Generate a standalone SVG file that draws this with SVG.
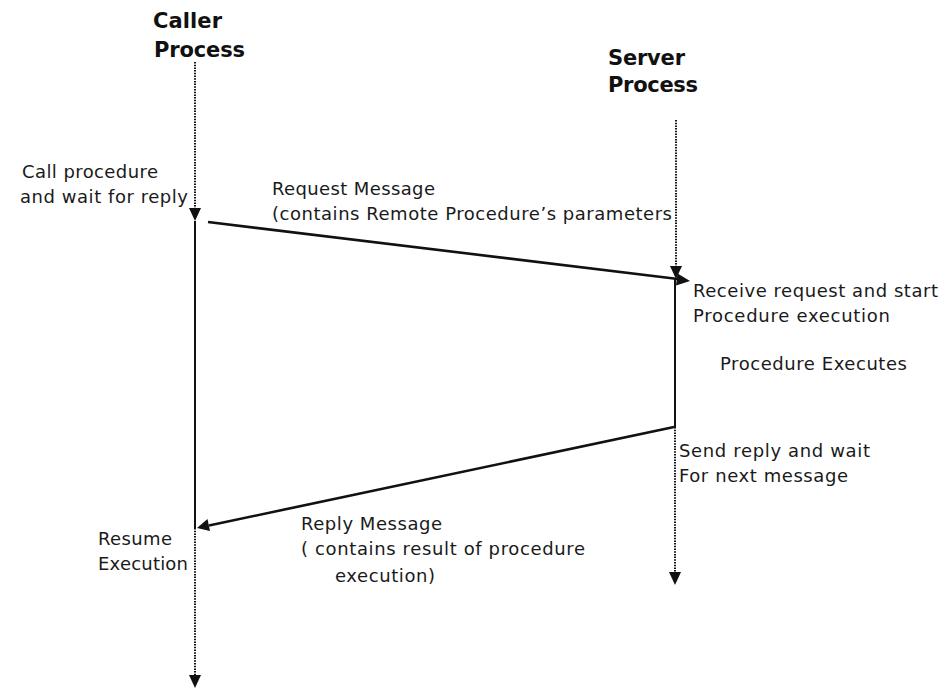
<svg xmlns="http://www.w3.org/2000/svg" width="949" height="691" viewBox="0 0 949 691">
<style>
.t{font-family:"DejaVu Sans","Verdana",sans-serif;font-size:18px;fill:#1a1a1a}
.h{font-family:"DejaVu Sans","Verdana",sans-serif;font-size:21px;font-weight:bold;fill:#111}
.dot{stroke:#111;stroke-width:2;stroke-dasharray:1.5 1.2;fill:none}
.sol{stroke:#111;stroke-width:2;fill:none}
.msg{stroke:#111;stroke-width:2.6;fill:none}
.ah{fill:#111}
</style>
<rect width="949" height="691" fill="#fff"/>
<g id="caller">
<text class="h" x="153" y="28" textLength="69">Caller</text>
<text class="h" x="154" y="57" textLength="91">Process</text>
<line class="dot" x1="195" y1="62" x2="195" y2="210"/>
<polygon class="ah" points="189,208 201,208 195,221"/>
<line class="sol" x1="195" y1="221" x2="195" y2="528"/>
<line class="dot" x1="195" y1="528" x2="195" y2="677"/>
<polygon class="ah" points="189,675 201,675 195,688"/>
<text class="t" x="22" y="178" textLength="136">Call procedure</text>
<text class="t" x="20" y="203" textLength="168">and wait for reply</text>
<text class="t" x="98" y="545" textLength="74">Resume</text>
<text class="t" x="98" y="570" textLength="90">Execution</text>
</g>
<g id="server">
<text class="h" x="608" y="65" textLength="77">Server</text>
<text class="h" x="608" y="92" textLength="90">Process</text>
<line class="dot" x1="676" y1="120" x2="676" y2="268"/>
<polygon class="ah" points="670,266 682,266 676,279"/>
<line class="sol" x1="675" y1="279" x2="675" y2="427"/>
<line class="dot" x1="675" y1="427" x2="675" y2="574"/>
<polygon class="ah" points="669,572 681,572 675,585"/>
<text class="t" x="693" y="297" textLength="245">Receive request and start</text>
<text class="t" x="693" y="322" textLength="197">Procedure execution</text>
<text class="t" x="720" y="370" textLength="187">Procedure Executes</text>
<text class="t" x="679" y="457" textLength="191">Send reply and wait</text>
<text class="t" x="679" y="482" textLength="169">For next message</text>
</g>
<g id="connectors">
<line class="msg" x1="208" y1="222" x2="678" y2="279"/>
<polygon class="ah" points="690,281 676,285.5 677.5,273.5"/>
<text class="t" x="272" y="195" textLength="163">Request Message</text>
<text class="t" x="272" y="220" textLength="400">(contains Remote Procedure’s parameters</text>
<line class="msg" x1="674" y1="427" x2="209" y2="525.5"/>
<polygon class="ah" points="197,528 207.5,519 210,531"/>
<text class="t" x="301" y="530" textLength="141">Reply Message</text>
<text class="t" x="301" y="555" textLength="284">( contains result of procedure</text>
<text class="t" x="335" y="582" textLength="100">execution)</text>
</g>
</svg>
